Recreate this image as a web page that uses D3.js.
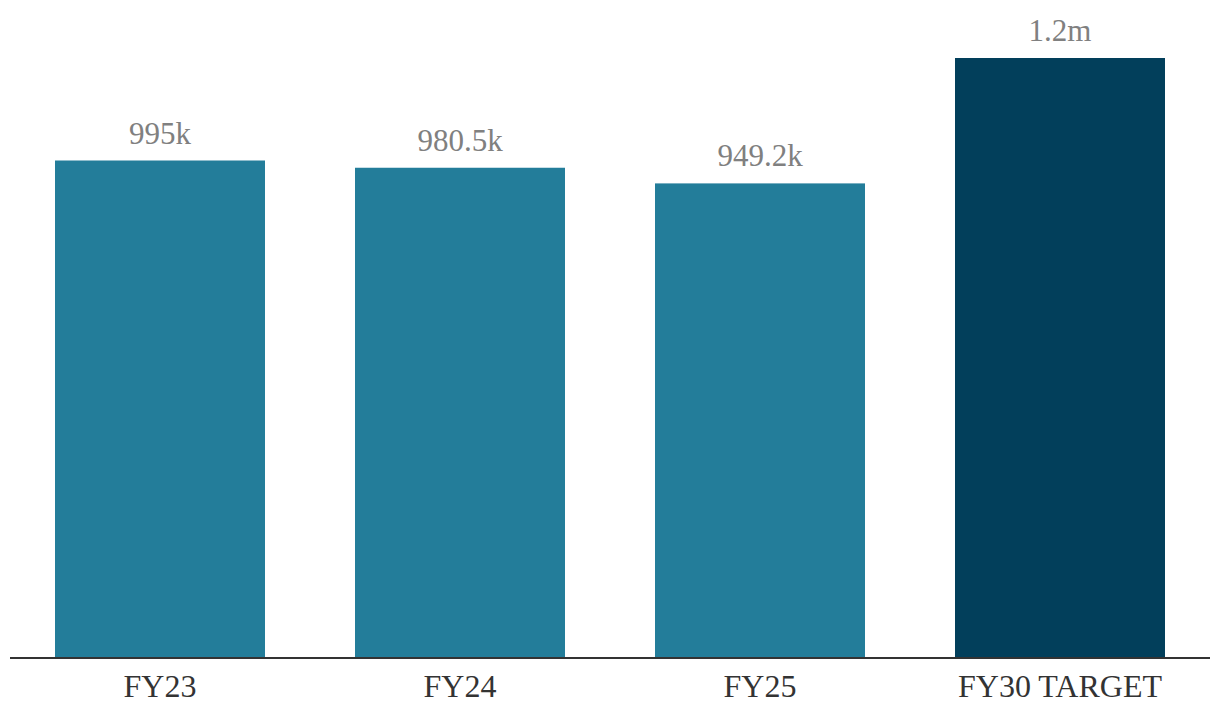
<!DOCTYPE html>
<html><head><meta charset="utf-8">
<script src="https://cdn.jsdelivr.net/npm/d3@7"></script>
<style>body{margin:0;background:#fff}</style>
</head><body>
<svg id="c" width="1220" height="724"></svg>
<script>
const categories = ["FY23", "FY24", "FY25", "FY30 TARGET"];
const values = [995000, 980500, 949200, 1200000];
const valueLabels = ["995k", "980.5k", "949.2k", "1.2m"];
const barColors = ["#237d9a", "#237d9a", "#237d9a", "#023f5b"];

const svg = d3.select("#c");
const x = d3.scaleBand().domain(categories).range([10, 1210]).paddingInner(0.3).paddingOuter(0.15);
const y = d3.scaleLinear().domain([0, 1200000]).range([658, 58]);
const font = "'Liberation Serif', 'DejaVu Serif', serif";

svg.selectAll("rect.bar").data(values).join("rect")
  .attr("x", (d, i) => x(categories[i]))
  .attr("y", d => y(d))
  .attr("width", x.bandwidth())
  .attr("height", d => y(0) - y(d))
  .attr("fill", (d, i) => barColors[i]);

svg.selectAll("text.val").data(values).join("text")
  .attr("x", (d, i) => x(categories[i]) + x.bandwidth() / 2)
  .attr("y", d => y(d) - 17)
  .attr("text-anchor", "middle")
  .attr("font-family", font)
  .attr("font-size", 31)
  .attr("fill", "#808080")
  .text((d, i) => valueLabels[i]);

const ax = svg.append("g").attr("transform", "translate(0,658)")
  .call(d3.axisBottom(x).tickSize(0).tickPadding(16));
ax.select(".domain").attr("stroke", "#333").attr("stroke-width", 2).attr("d", "M10,0H1210");
ax.selectAll("text").attr("font-family", font).attr("font-size", 32).attr("fill", "#333");
</script>
</body></html>
